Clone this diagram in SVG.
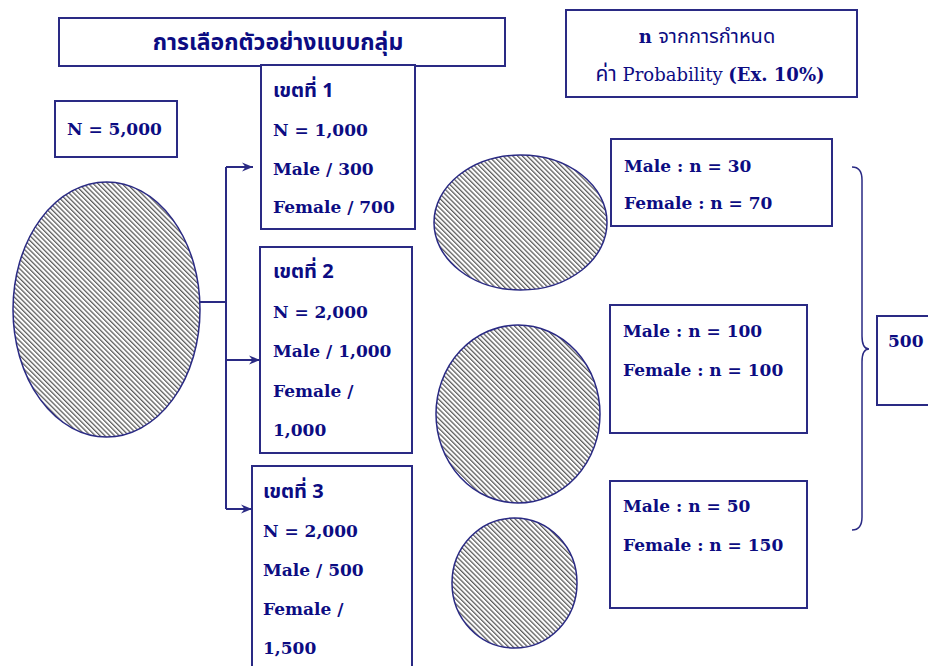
<svg xmlns="http://www.w3.org/2000/svg" width="928" height="666" viewBox="0 0 928 666">
<style>
.box{fill:#fff;stroke:#2a2a84;stroke-width:2}
.t{font-family:"DejaVu Serif","Liberation Serif",serif;font-weight:bold;font-size:17px;fill:#0c0c82}
.th{font-family:"Noto Sans Thai","Noto Sans","DejaVu Sans",sans-serif;font-weight:bold;font-size:20px;fill:#0c0c82}
.reg{font-family:"Noto Sans Thai","Noto Sans",sans-serif;font-size:18px;fill:#0c0c82}
.ser{font-family:"DejaVu Serif","Liberation Serif",serif;font-size:17px;fill:#0c0c82}
.ell{fill:url(#hatch);stroke:#2a2a84;stroke-width:1.5}
.con{fill:none;stroke:#2a2a84;stroke-width:2}
</style>
<defs>
<pattern id="hatch" patternUnits="userSpaceOnUse" width="3.4" height="3.4" patternTransform="rotate(-45)">
<rect width="3.4" height="3.4" fill="#fff"/>
<line x1="0.7" y1="0" x2="0.7" y2="3.4" stroke="#222" stroke-width="0.95"/>
</pattern>
<marker id="arr" markerWidth="12" markerHeight="12" refX="11" refY="6" orient="auto" markerUnits="userSpaceOnUse">
<path d="M0,1.5 L11,6 L0,10.5 L3.5,6 Z" fill="#2a2a84"/>
</marker>
</defs>

<g id="title">
<rect class="box" x="59" y="18" width="446" height="48"/>
<text class="th" x="278" y="50" text-anchor="middle" style="font-size:23px">การเลือกตัวอย่างแบบกลุ่ม</text>
</g>

<g id="note">
<rect class="box" x="566" y="10" width="291" height="87"/>
<text x="707" y="43" text-anchor="middle"><tspan class="t" style="font-size:18px">n </tspan><tspan class="reg" style="font-size:20px">จากการกำหนด</tspan></text>
<text x="710" y="81" text-anchor="middle"><tspan class="reg" style="font-size:21px">ค่า</tspan><tspan class="ser" style="font-size:18px"> Probability </tspan><tspan class="t" style="font-size:18px">(Ex. 10%)</tspan></text>
</g>

<g id="total">
<rect class="box" x="55" y="101" width="122" height="56"/>
<text class="t" x="67" y="135">N = 5,000</text>
</g>

<g id="population">
<ellipse class="ell" cx="106.5" cy="309.5" rx="93.5" ry="127.5"/>
</g>

<g id="zone1">
<rect class="box" x="261" y="65" width="154" height="164"/>
<text class="th" x="273" y="97">เขตที่ 1</text>
<text class="t" x="273" y="136">N = 1,000</text>
<text class="t" x="273" y="175">Male / 300</text>
<text class="t" x="273" y="213">Female / 700</text>
</g>

<g id="zone2">
<rect class="box" x="260" y="247" width="152" height="206"/>
<text class="th" x="273" y="278">เขตที่ 2</text>
<text class="t" x="273" y="318">N = 2,000</text>
<text class="t" x="273" y="357">Male / 1,000</text>
<text class="t" x="273" y="397">Female /</text>
<text class="t" x="273" y="436">1,000</text>
</g>

<g id="zone3">
<rect class="box" x="252" y="466" width="160" height="215"/>
<text class="th" x="263" y="498">เขตที่ 3</text>
<text class="t" x="263" y="537">N = 2,000</text>
<text class="t" x="263" y="576">Male / 500</text>
<text class="t" x="263" y="615">Female /</text>
<text class="t" x="263" y="654">1,500</text>
</g>

<g id="sample1">
<ellipse class="ell" cx="520.5" cy="222.5" rx="86.5" ry="67.5"/>
</g>
<g id="sample2">
<ellipse class="ell" cx="518" cy="414" rx="82" ry="89"/>
</g>
<g id="sample3">
<ellipse class="ell" cx="514.5" cy="583" rx="62.5" ry="65"/>
</g>

<g id="result1">
<rect class="box" x="611" y="139" width="221" height="87"/>
<text class="t" x="624" y="172">Male : n = 30</text>
<text class="t" x="624" y="209">Female : n = 70</text>
</g>
<g id="result2">
<rect class="box" x="610" y="305" width="197" height="128"/>
<text class="t" x="623" y="337">Male : n = 100</text>
<text class="t" x="623" y="376">Female : n = 100</text>
</g>
<g id="result3">
<rect class="box" x="610" y="481" width="197" height="127"/>
<text class="t" x="623" y="512">Male : n = 50</text>
<text class="t" x="623" y="551">Female : n = 150</text>
</g>

<g id="sum">
<rect class="box" x="877" y="316" width="60" height="89"/>
<text class="t" x="888" y="347">500</text>
</g>

<g id="connectors">
<path class="con" d="M200,302 H226"/>
<path class="con" d="M226,167 V509"/>
<path class="con" d="M226,167 H253" marker-end="url(#arr)"/>
<path class="con" d="M226,360 H260" marker-end="url(#arr)"/>
<path class="con" d="M226,509 H252" marker-end="url(#arr)"/>
<path d="M852,167 Q862,167 862,180 L862,336 Q862,349 869,349 Q862,349 862,362 L862,517 Q862,530 852,530" fill="none" stroke="#2a2a84" stroke-width="1.5"/>
</g>
</svg>
